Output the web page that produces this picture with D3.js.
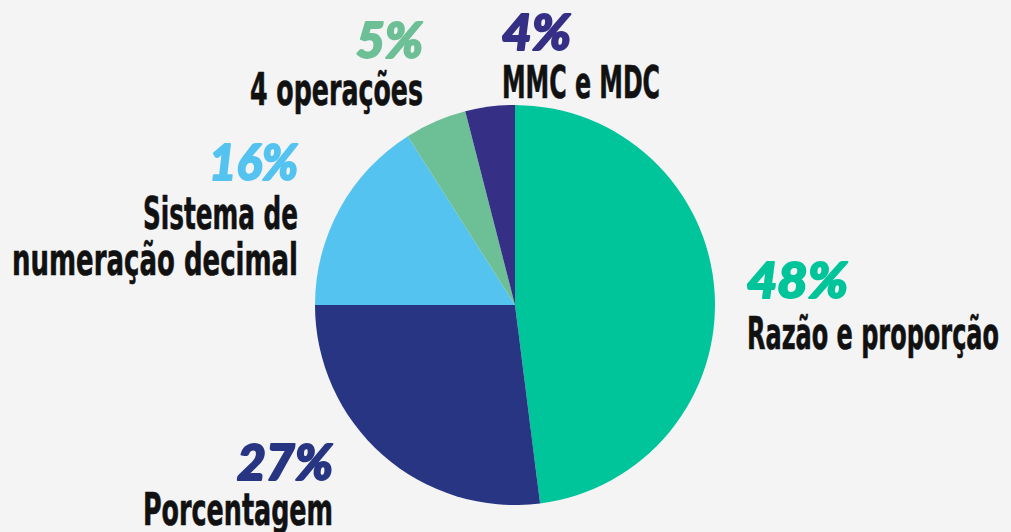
<!DOCTYPE html>
<html>
<head>
<meta charset="utf-8">
<script src="https://cdn.jsdelivr.net/npm/d3@7"></script>
<style>
  body { margin: 0; background: #f4f4f5; }
  #chart { width: 1011px; height: 532px; }
  .pct { font-family: Lato, "Open Sans", sans-serif; font-weight: 900; font-style: italic; stroke-width: 2px; stroke-linejoin: round; }
  .lbl { font-family: "Liberation Sans Narrow", "DejaVu Sans Condensed", sans-serif; font-weight: bold; fill: #111; stroke: #111; stroke-width: 0.6px; }
</style>
</head>
<body>
<div id="chart"></div>
<script>
// data, clockwise from 12 o'clock
var categories = ["Razão e proporção", "Porcentagem", "Sistema de numeração decimal", "4 operações", "MMC e MDC"];
var values = [48, 27, 16, 5, 4];
var colors = ["#00c49a", "#283583", "#55c3f0", "#6dbf96", "#352f86"];

// label layout for each slice: x, baseline of %, baseline of name, anchor, line widths
var labelPos = [
    {x: 747, py: 298, ly: 349, anchor: "start", lines: ["Razão e proporção"], widths: [252], pw: 101},
    {x: 333, py: 480, ly: 525, anchor: "end", lines: ["Porcentagem"], widths: [190], pw: 96},
    {x: 298, py: 180, ly: 229, anchor: "end", lines: ["Sistema de", "numeração decimal"], widths: [155, 286], pw: 89},
    {x: 423, py: 58, ly: 105, anchor: "end", lines: ["4 operações"], widths: [173], pw: 67},
    {x: 502, py: 50, ly: 98, anchor: "start", lines: ["MMC e MDC"], widths: [158], pw: 69}
];

var width = 1011, height = 532;
var cx = 515, cy = 305, radius = 200;

var svg = d3.select("#chart")
    .append("svg")
        .attr("width", width)
        .attr("height", height);

svg.append("rect")
    .attr("width", width)
    .attr("height", height)
    .attr("fill", "#f4f4f5");

var data = categories.map((c, i) => ({name: c, value: values[i], color: colors[i], pos: labelPos[i]}));

var pie = d3.pie()
    .value(d => d.value)
    .sort(null);

var arc = d3.arc()
    .innerRadius(0)
    .outerRadius(radius);

var g = svg.append("g")
    .attr("transform", "translate(" + cx + "," + cy + ")");

g.selectAll("path")
    .data(pie(data))
    .join("path")
        .attr("d", arc)
        .attr("fill", d => d.data.color);

// labels
var lab = svg.selectAll("g.label")
    .data(data)
    .join("g")
        .attr("class", "label");

lab.append("text")
    .attr("class", "pct")
    .attr("x", d => d.pos.x)
    .attr("y", d => d.pos.py)
    .attr("text-anchor", d => d.pos.anchor)
    .attr("font-size", 49)
    .attr("fill", d => d.color)
    .attr("stroke", d => d.color)
    .attr("textLength", d => d.pos.pw)
    .attr("lengthAdjust", "spacingAndGlyphs")
    .text(d => d.value + "%");

lab.each(function(d) {
    var sel = d3.select(this);
    d.pos.lines.forEach((line, j) => {
        sel.append("text")
            .attr("class", "lbl")
            .attr("x", d.pos.x)
            .attr("y", d.pos.ly + j * 46)
            .attr("text-anchor", d.pos.anchor)
            .attr("font-size", 44)
            .attr("textLength", d.pos.widths[j])
            .attr("lengthAdjust", "spacingAndGlyphs")
            .text(line);
    });
});
</script>
</body>
</html>
